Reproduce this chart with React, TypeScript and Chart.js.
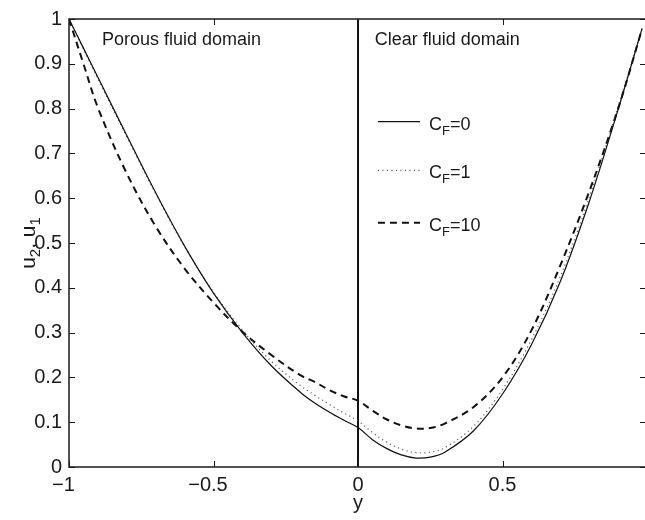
import { useEffect, useRef } from "react";
import { Chart, registerables } from "chart.js";

Chart.register(...registerables);

// ---- data ----
const xValues = [-1, -0.95, -0.9, -0.8, -0.7, -0.6, -0.5, -0.4, -0.3, -0.2, -0.15, -0.1, -0.05, 0, 0.05, 0.1, 0.15, 0.2, 0.25, 0.3, 0.4, 0.5, 0.6, 0.7, 0.8, 0.9, 0.983];
const cf0 = [1.0, 0.935, 0.87, 0.74, 0.612, 0.493, 0.388, 0.3, 0.226, 0.167, 0.143, 0.123, 0.105, 0.088, 0.061, 0.041, 0.027, 0.02, 0.022, 0.033, 0.081, 0.163, 0.273, 0.414, 0.592, 0.798, 0.979];
const cf1 = [1.0, 0.933, 0.867, 0.737, 0.61, 0.492, 0.39, 0.306, 0.236, 0.182, 0.16, 0.14, 0.121, 0.103, 0.077, 0.055, 0.04, 0.032, 0.033, 0.043, 0.091, 0.173, 0.284, 0.425, 0.602, 0.805, 0.98];
const cf10 = [1.0, 0.9, 0.802, 0.655, 0.537, 0.443, 0.367, 0.302, 0.25, 0.205, 0.19, 0.172, 0.158, 0.148, 0.126, 0.106, 0.093, 0.086, 0.087, 0.097, 0.134, 0.2, 0.305, 0.45, 0.615, 0.8, 0.978];
const dividerX = [0, 0];
const dividerY = [0, 1];

const xTicks = [-1, -0.5, 0, 0.5];
const xTickLabels = ["\u22121\u2007", "\u22120.5\u2007", "0", "0.5"];
const yTicks = [0, 0.1, 0.2, 0.3, 0.4, 0.5, 0.6, 0.7, 0.8, 0.9, 1];
const yTickLabels = ["0", "0.1", "0.2", "0.3", "0.4", "0.5", "0.6", "0.7", "0.8", "0.9", "1"];

const seriesNames = ["0", "1", "10"];
const regionLabels = ["Porous fluid domain", "Clear fluid domain"];
const xTitle = "y";

const FONT = '"Liberation Sans", Arial, Helvetica, sans-serif';
const INK = "#1a1a1a";

const styles = [
  { color: "#111", width: 1.2, dash: [] as number[] },
  { color: "#444", width: 1.2, dash: [1, 3.5] },
  { color: "#111", width: 2, dash: [7, 5] },
];

const pts = (ys: number[]) => xValues.map((x, i) => ({ x, y: ys[i] }));

const decor = {
  id: "decor",
  afterDraw(chart: any) {
    const { ctx, chartArea, scales } = chart;
    const { left, right, top, bottom } = chartArea;
    const xs = scales.x;
    const ys = scales.y;
    ctx.save();
    // frame
    ctx.strokeStyle = INK;
    ctx.lineWidth = 1.5;
    ctx.setLineDash([]);
    ctx.beginPath();
    ctx.moveTo(right + 2, top);
    ctx.lineTo(left, top);
    ctx.lineTo(left, bottom);
    ctx.lineTo(right + 2, bottom);
    ctx.stroke();
    // inward ticks
    ctx.lineWidth = 1;
    ctx.beginPath();
    yTicks.forEach((v) => {
      const py = Math.round(ys.getPixelForValue(v)) + 0.5;
      ctx.moveTo(left, py);
      ctx.lineTo(left + 6, py);
      ctx.moveTo(right - 5, py);
      ctx.lineTo(right, py);
    });
    xTicks.forEach((v) => {
      const px = Math.round(xs.getPixelForValue(v)) + 0.5;
      ctx.moveTo(px, bottom);
      ctx.lineTo(px, bottom - 6);
      ctx.moveTo(px, top);
      ctx.lineTo(px, top + 6);
    });
    ctx.stroke();

    // region labels
    ctx.fillStyle = INK;
    ctx.font = `18px ${FONT}`;
    ctx.textBaseline = "alphabetic";
    ctx.textAlign = "left";
    ctx.fillText(regionLabels[0], xs.getPixelForValue(-0.886), ys.getPixelForValue(0.942));
    ctx.fillText(regionLabels[1], xs.getPixelForValue(0.058), ys.getPixelForValue(0.942));

    // legend
    const legY = [0.771, 0.662, 0.545];
    seriesNames.forEach((name, i) => {
      const py = ys.getPixelForValue(legY[i]);
      const s = styles[i];
      ctx.strokeStyle = s.color;
      ctx.lineWidth = s.width;
      ctx.setLineDash(s.dash);
      ctx.beginPath();
      ctx.moveTo(xs.getPixelForValue(0.069), py);
      ctx.lineTo(xs.getPixelForValue(0.2145), py);
      ctx.stroke();
      ctx.setLineDash([]);
      let tx = xs.getPixelForValue(0.2457);
      const base = py + 8;
      ctx.fillStyle = INK;
      ctx.font = `18px ${FONT}`;
      ctx.fillText("C", tx, base);
      tx += ctx.measureText("C").width;
      ctx.font = `13px ${FONT}`;
      ctx.fillText("F", tx, base + 5);
      tx += ctx.measureText("F").width;
      ctx.font = `18px ${FONT}`;
      ctx.fillText("=" + name, tx, base);
    });

    // x axis title
    ctx.font = `20px ${FONT}`;
    ctx.textAlign = "center";
    ctx.fillText(xTitle, (left + right) / 2 + 1, 509);

    // y axis title: u_2, u_1 (rotated)
    const parts: [string, boolean][] = [["u", false], ["2", true], [", u", false], ["1", true]];
    const fontFor = (sub: boolean) => (sub ? `15px ${FONT}` : `21px ${FONT}`);
    let total = 0;
    parts.forEach(([t, sub]) => {
      ctx.font = fontFor(sub);
      total += ctx.measureText(t).width;
    });
    ctx.translate(35, (top + bottom) / 2);
    ctx.rotate(-Math.PI / 2);
    ctx.textAlign = "left";
    let cx = -total / 2;
    parts.forEach(([t, sub]) => {
      ctx.font = fontFor(sub);
      ctx.fillText(t, cx, sub ? 5 : 0);
      cx += ctx.measureText(t).width;
    });
    ctx.restore();
  },
};

export default function App() {
  const ref = useRef<HTMLCanvasElement>(null);
  useEffect(() => {
    const canvas = ref.current!;
    const chart = new Chart(canvas, {
      type: "line",
      data: {
        datasets: [
          {
            label: "C_F=0",
            data: pts(cf0),
            borderColor: styles[0].color,
            borderWidth: styles[0].width,
            borderDash: styles[0].dash,
            pointRadius: 0,
            tension: 0.35,
            fill: false,
          },
          {
            label: "C_F=1",
            data: pts(cf1),
            borderColor: styles[1].color,
            borderWidth: styles[1].width,
            borderDash: styles[1].dash,
            pointRadius: 0,
            tension: 0.35,
            fill: false,
          },
          {
            label: "C_F=10",
            data: pts(cf10),
            borderColor: styles[2].color,
            borderWidth: styles[2].width,
            borderDash: styles[2].dash,
            pointRadius: 0,
            tension: 0.35,
            fill: false,
          },
          {
            label: "interface",
            data: dividerX.map((x, i) => ({ x, y: dividerY[i] })),
            borderColor: "#111",
            borderWidth: 2,
            pointRadius: 0,
            fill: false,
          },
        ],
      },
      options: {
        responsive: false,
        animation: false,
        events: [],
        layout: { padding: { top: 10, right: 0, left: 0, bottom: 0 } },
        plugins: {
          legend: { display: false },
          title: { display: false },
          tooltip: { enabled: false },
        },
        scales: {
          x: {
            type: "linear",
            min: -1,
            max: 0.993,
            grid: { display: false, drawTicks: false },
            border: { display: false },
            afterBuildTicks: (s: any) => {
              s.ticks = xTicks.map((v) => ({ value: v }));
            },
            afterFit: (s: any) => {
              s.height = 53;
            },
            ticks: {
              autoSkip: false,
              maxRotation: 0,
              padding: 6,
              color: INK,
              font: { size: 20, family: FONT },
              callback: (v: any) => {
                const i = xTicks.indexOf(Number(v));
                return i >= 0 ? xTickLabels[i] : "";
              },
            },
          },
          y: {
            type: "linear",
            min: 0,
            max: 1,
            grid: { display: false, drawTicks: false },
            border: { display: false },
            afterBuildTicks: (s: any) => {
              s.ticks = yTicks.map((v) => ({ value: v }));
            },
            afterFit: (s: any) => {
              s.width = 69;
            },
            ticks: {
              autoSkip: false,
              padding: 7,
              color: INK,
              font: { size: 20, family: FONT },
              callback: (v: any) => {
                const i = yTicks.findIndex((t) => Math.abs(t - Number(v)) < 1e-9);
                return i >= 0 ? yTickLabels[i] : "";
              },
            },
          },
        },
      },
      plugins: [decor],
    });
    return () => chart.destroy();
  }, []);
  return (
    <div style={{ position: "fixed", left: 0, top: 0, width: 645, height: 520, background: "#fff" }}>
      <canvas ref={ref} width={645} height={520} style={{ width: 645, height: 520, display: "block" }} />
    </div>
  );
}
